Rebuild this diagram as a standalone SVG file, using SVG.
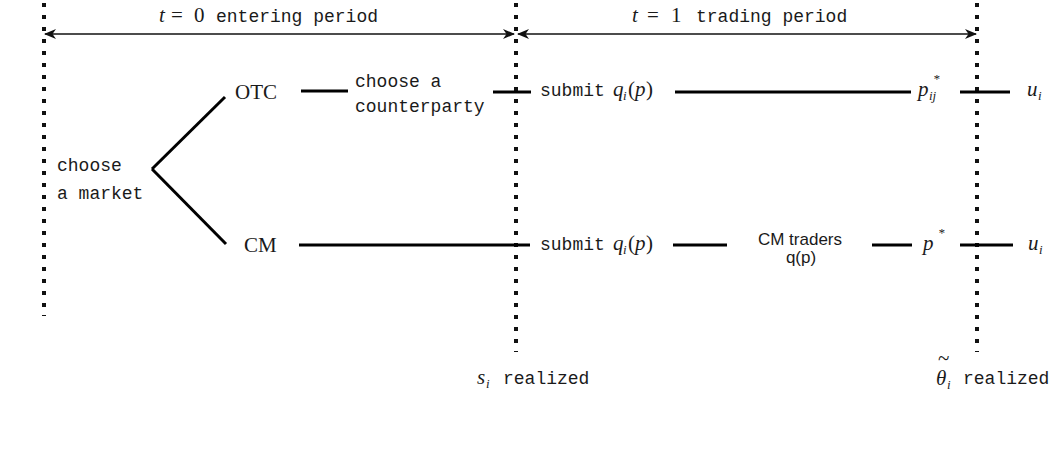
<svg xmlns="http://www.w3.org/2000/svg" width="1053" height="450" viewBox="0 0 1053 450">
  <style>
    .word { font-family: "Liberation Mono", "DejaVu Sans Mono", monospace; font-size: 18px; fill: #1a1a1a; }
    .mkt { font-family: "Liberation Serif", "Times New Roman", serif; font-size: 21px; fill: #1a1a1a; }
    .mi { font-family: "Liberation Serif", "Times New Roman", serif; font-style: italic; font-size: 21px; fill: #1a1a1a; }
    .mu { font-family: "Liberation Serif", "Times New Roman", serif; font-size: 21px; fill: #1a1a1a; }
    .sub { font-family: "Liberation Serif", "Times New Roman", serif; font-style: italic; font-size: 13px; fill: #1a1a1a; }
    .sans { font-family: "Liberation Sans", Arial, sans-serif; font-size: 17px; fill: #1a1a1a; text-anchor: middle; }
    .stage { stroke: #111; stroke-width: 4; stroke-dasharray: 4 8; fill: none; }
    .edge { stroke: #000; stroke-width: 3; fill: none; }
    .span { stroke: #111; stroke-width: 1.5; fill: none; marker-start: url(#head); marker-end: url(#head); }
  </style>
  <defs>
    <marker id="head" viewBox="0 0 12 10" refX="11" refY="5" markerWidth="12" markerHeight="10" markerUnits="userSpaceOnUse" orient="auto-start-reverse">
      <path d="M0,0 L12,5 L0,10 L3.5,5 Z" fill="#111"/>
    </marker>
  </defs>

  <rect width="1053" height="450" fill="#fff"/>

  <!-- period boundaries -->
  <g id="boundaries">
    <line class="stage" x1="44" y1="3" x2="44" y2="316"/>
    <line class="stage" x1="516" y1="3" x2="516" y2="352"/>
    <line class="stage" x1="977" y1="3" x2="977" y2="352"/>
  </g>

  <!-- period spans -->
  <g id="period-0">
    <line class="span" x1="45" y1="34" x2="514" y2="34"/>
    <text class="mi" x="159" y="22">t</text>
    <text class="mu" x="171" y="22" font-size="24">=</text>
    <text class="mu" x="194" y="22">0</text>
    <text class="word" x="216" y="22">entering period</text>
  </g>
  <g id="period-1">
    <line class="span" x1="518" y1="34" x2="976" y2="34"/>
    <text class="mi" x="632" y="22">t</text>
    <text class="mu" x="647" y="22" font-size="24">=</text>
    <text class="mu" x="671" y="22">1</text>
    <text class="word" x="696" y="22">trading period</text>
  </g>

  <!-- connectors -->
  <g id="connectors">
    <line class="edge" x1="152" y1="169" x2="225" y2="97"/>
    <line class="edge" x1="152" y1="169" x2="226" y2="244"/>
    <line class="edge" x1="301" y1="91" x2="348" y2="91"/>
    <line class="edge" x1="493" y1="92" x2="531" y2="92"/>
    <line class="edge" x1="675" y1="92" x2="911" y2="92"/>
    <line class="edge" x1="960" y1="92" x2="1010" y2="92"/>
    <line class="edge" x1="299" y1="245" x2="530" y2="245"/>
    <line class="edge" x1="673" y1="245" x2="727" y2="245"/>
    <line class="edge" x1="872" y1="245" x2="912" y2="245"/>
    <line class="edge" x1="960" y1="245" x2="1013" y2="245"/>
  </g>

  <!-- nodes -->
  <g id="node-choose-market">
    <text class="word" x="57" y="171">choose</text>
    <text class="word" x="57" y="199">a market</text>
  </g>
  <g id="node-otc">
    <text class="mkt" x="235" y="99">OTC</text>
  </g>
  <g id="node-cm">
    <text class="mkt" x="244" y="252">CM</text>
  </g>
  <g id="node-counterparty">
    <text class="word" x="355" y="87">choose a</text>
    <text class="word" x="355" y="112">counterparty</text>
  </g>
  <g id="node-submit-otc">
    <text class="word" x="540" y="96">submit</text>
    <text class="mi" x="613" y="96">q</text>
    <text class="sub" x="623" y="100">i</text>
    <text class="mu" x="628" y="96">(</text>
    <text class="mi" x="635" y="96">p</text>
    <text class="mu" x="646" y="96">)</text>
  </g>
  <g id="node-price-otc">
    <text class="mi" x="918" y="96">p</text>
    <text class="sub" x="933" y="83">*</text>
    <text class="sub" x="929" y="100">ij</text>
  </g>
  <g id="node-utility-otc">
    <text class="mi" x="1027" y="96">u</text>
    <text class="sub" x="1038" y="100">i</text>
  </g>
  <g id="node-submit-cm">
    <text class="word" x="540" y="250">submit</text>
    <text class="mi" x="613" y="250">q</text>
    <text class="sub" x="623" y="254">i</text>
    <text class="mu" x="628" y="250">(</text>
    <text class="mi" x="635" y="250">p</text>
    <text class="mu" x="646" y="250">)</text>
  </g>
  <g id="node-cm-traders">
    <text class="sans" x="800" y="245">CM traders</text>
    <text class="sans" x="801" y="263">q(p)</text>
  </g>
  <g id="node-price-cm">
    <text class="mi" x="923" y="250">p</text>
    <text class="sub" x="938" y="237">*</text>
  </g>
  <g id="node-utility-cm">
    <text class="mi" x="1028" y="250">u</text>
    <text class="sub" x="1039" y="254">i</text>
  </g>

  <!-- realization labels -->
  <g id="label-signal">
    <text class="mi" x="477" y="384">s</text>
    <text class="sub" x="486" y="388">i</text>
    <text class="word" x="503" y="384">realized</text>
  </g>
  <g id="label-theta">
    <text class="mu" x="938" y="365" font-size="14">~</text>
    <text class="mi" x="936" y="385">θ</text>
    <text class="sub" x="947" y="389">i</text>
    <text class="word" x="963" y="384">realized</text>
  </g>
</svg>
